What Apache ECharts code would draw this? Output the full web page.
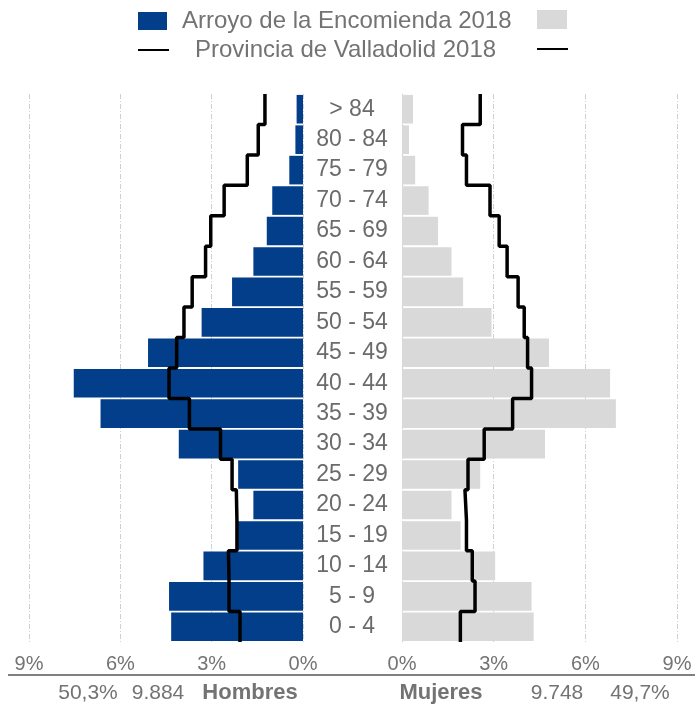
<!DOCTYPE html>
<html>
<head>
<meta charset="utf-8">
<script src="https://cdn.jsdelivr.net/npm/echarts@6/dist/echarts.min.js"></script>
<style>
  html, body { margin: 0; padding: 0; background: #fff; }
  #chart { width: 695px; height: 706px; }
</style>
</head>
<body>
<div id="chart"></div>
<script>
// grupos de edad, de abajo arriba
const ageGroups = ['0 - 4', '5 - 9', '10 - 14', '15 - 19', '20 - 24', '25 - 29', '30 - 34', '35 - 39',
  '40 - 44', '45 - 49', '50 - 54', '55 - 59', '60 - 64', '65 - 69', '70 - 74', '75 - 79', '80 - 84', '> 84']

// Arroyo de la Encomienda 2018 (% sobre total)
const hombresMunicipio = [4.33, 4.40, 3.27, 2.15, 1.63, 2.13, 4.08, 6.65, 7.53, 5.09, 3.33, 2.33, 1.63, 1.19, 1.01, 0.45, 0.25, 0.21]
const mujeresMunicipio = [4.31, 4.24, 3.05, 1.92, 1.62, 2.56, 4.68, 7.00, 6.81, 4.81, 2.93, 2.00, 1.62, 1.18, 0.87, 0.43, 0.23, 0.36]

// Provincia de Valladolid 2018
const hombresProvincia = [2.07, 2.43, 2.45, 2.17, 2.19, 2.33, 2.71, 3.73, 4.40, 4.15, 3.91, 3.64, 3.20, 3.03, 2.59, 1.83, 1.47, 1.25]
const mujeresProvincia = [1.91, 2.39, 2.30, 2.11, 2.06, 2.16, 2.69, 3.62, 4.24, 4.11, 4.00, 3.80, 3.44, 3.18, 2.88, 2.11, 1.98, 2.56]

const xTicks = [0, 3, 6, 9]

// totales
const totalHombres = '9.884'
const pctHombres = '50,3%'
const totalMujeres = '9.748'
const pctMujeres = '49,7%'

const serieMunicipio = 'Arroyo de la Encomienda 2018'
const serieProvincia = 'Provincia de Valladolid 2018'

const FONT = "'Liberation Sans', Arial, sans-serif"
const GRIS = '#737373'

// escalones: cada grupo ocupa de i a i+1 en un eje de valor oculto
const toSteps = (vals) => {
  const pts = []
  vals.forEach((v, i) => {
    pts.push([v, i])
    pts.push([v, i + 1])
  })
  return pts
}

const chart = echarts.init(document.getElementById('chart'))

const valueAxis = (gridIndex, inverse) => ({
  type: 'value',
  gridIndex: gridIndex,
  min: xTicks[0],
  max: xTicks[xTicks.length - 1],
  interval: 3,
  inverse: inverse,
  axisLine: { show: false },
  axisTick: { show: false },
  axisLabel: {
    formatter: '{value}%',
    color: GRIS,
    fontSize: 20,
    fontFamily: FONT,
    margin: 12
  },
  splitLine: {
    show: true,
    lineStyle: { color: '#d0d0d0', width: 1, type: [5, 2, 1, 2] }
  }
})

chart.setOption({
  animation: false,
  textStyle: { fontFamily: FONT },
  legend: [
    {
      data: [serieMunicipio],
      left: 138, top: 9, padding: 0,
      icon: 'rect', itemWidth: 29, itemHeight: 18,
      selectedMode: false,
      textStyle: { color: GRIS, fontSize: 24, fontFamily: FONT, padding: [0, 0, 0, 10] }
    },
    {
      data: [{ name: serieMunicipio, itemStyle: { color: '#d9d9d9' } }],
      left: 537, top: 10, padding: 0,
      icon: 'rect', itemWidth: 30, itemHeight: 19,
      selectedMode: false,
      formatter: () => ''
    },
    {
      data: [serieProvincia],
      left: 138, top: 38, padding: 0,
      icon: 'rect', itemWidth: 31, itemHeight: 2,
      selectedMode: false,
      textStyle: { color: GRIS, fontSize: 24, fontFamily: FONT, padding: [0, 0, 0, 21] }
    },
    {
      data: [{ name: serieProvincia, itemStyle: { color: '#000' } }],
      left: 537, top: 48, padding: 0,
      icon: 'rect', itemWidth: 31, itemHeight: 2,
      selectedMode: false,
      formatter: () => ''
    }
  ],
  grid: [
    { left: 29, right: 392, top: 94, bottom: 64 },
    { left: 402, right: 18, top: 94, bottom: 64 }
  ],
  xAxis: [valueAxis(0, true), valueAxis(1, false)],
  yAxis: [
    {
      type: 'category', gridIndex: 0, data: ageGroups, position: 'right',
      axisLine: { show: false }, axisTick: { show: false },
      axisLabel: { margin: 49, align: 'center', color: '#6b6b6b', fontSize: 23, fontFamily: FONT }
    },
    {
      type: 'category', gridIndex: 1, data: ageGroups,
      axisLine: { show: false }, axisTick: { show: false },
      axisLabel: { show: false }
    },
    { type: 'value', gridIndex: 0, min: 0, max: ageGroups.length, show: false },
    { type: 'value', gridIndex: 1, min: 0, max: ageGroups.length, show: false }
  ],
  series: [
    {
      name: serieMunicipio, type: 'bar', xAxisIndex: 0, yAxisIndex: 0,
      data: hombresMunicipio, barCategoryGap: '6%',
      itemStyle: { color: '#023e8a' }
    },
    {
      name: serieMunicipio, type: 'bar', xAxisIndex: 1, yAxisIndex: 1,
      data: mujeresMunicipio, barCategoryGap: '6%',
      itemStyle: { color: '#d9d9d9' }
    },
    {
      name: serieProvincia, type: 'line', xAxisIndex: 0, yAxisIndex: 2,
      data: toSteps(hombresProvincia), symbol: 'none', z: 5,
      itemStyle: { color: '#000' },
      lineStyle: { color: '#000', width: 3.5 }
    },
    {
      name: serieProvincia, type: 'line', xAxisIndex: 1, yAxisIndex: 3,
      data: toSteps(mujeresProvincia), symbol: 'none', z: 5,
      itemStyle: { color: '#000' },
      lineStyle: { color: '#000', width: 3.5 }
    }
  ],
  graphic: [
    {
      type: 'line', shape: { x1: 8, y1: 675, x2: 695, y2: 675 },
      style: { stroke: '#808080', lineWidth: 2 }
    },
    { type: 'text', x: 88, y: 693, style: { text: pctHombres, fill: GRIS, font: '21px ' + FONT, textAlign: 'center', textVerticalAlign: 'middle' } },
    { type: 'text', x: 158, y: 693, style: { text: totalHombres, fill: GRIS, font: '21px ' + FONT, textAlign: 'center', textVerticalAlign: 'middle' } },
    { type: 'text', x: 250, y: 693, style: { text: 'Hombres', fill: GRIS, font: 'bold 22px ' + FONT, textAlign: 'center', textVerticalAlign: 'middle' } },
    { type: 'text', x: 441, y: 693, style: { text: 'Mujeres', fill: GRIS, font: 'bold 22px ' + FONT, textAlign: 'center', textVerticalAlign: 'middle' } },
    { type: 'text', x: 557, y: 693, style: { text: totalMujeres, fill: GRIS, font: '21px ' + FONT, textAlign: 'center', textVerticalAlign: 'middle' } },
    { type: 'text', x: 640, y: 693, style: { text: pctMujeres, fill: GRIS, font: '21px ' + FONT, textAlign: 'center', textVerticalAlign: 'middle' } }
  ]
})
</script>
</body>
</html>
